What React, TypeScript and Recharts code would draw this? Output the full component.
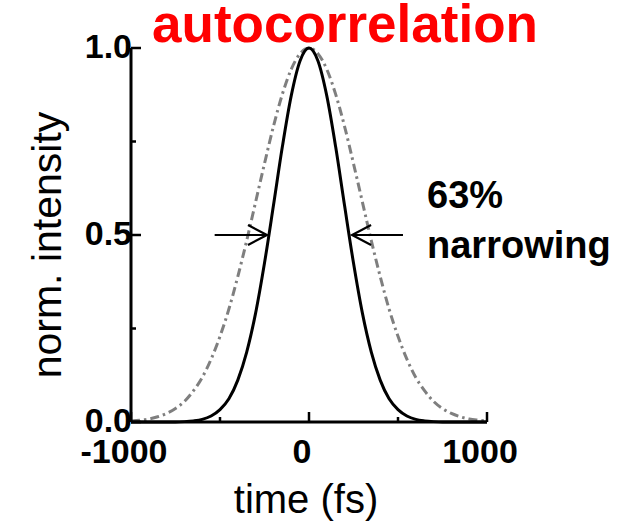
import { LineChart, Line, XAxis, YAxis, ReferenceLine } from "recharts";

// time axis (fs)
const TIME = [
  -1000, -950, -900, -850, -800, -750, -700, -650, -600, -550, -500, -450, -400,
  -350, -300, -250, -200, -150, -100, -50, 0, 50, 100, 150, 200, 250, 300, 350,
  400, 450, 500, 550, 600, 650, 700, 750, 800, 850, 900, 950, 1000,
];

// black solid curve (narrowed)
const NARROW = [
  0, 0, 0, 0, 0, 0, 0.001, 0.003, 0.007, 0.016, 0.033, 0.062, 0.112, 0.187,
  0.291, 0.425, 0.578, 0.735, 0.872, 0.966, 1, 0.966, 0.872, 0.735, 0.578,
  0.425, 0.291, 0.187, 0.112, 0.062, 0.033, 0.016, 0.007, 0.003, 0.001, 0, 0, 0,
  0, 0, 0,
];

// gray dash-dot curve (reference)
const WIDE = [
  0.003, 0.005, 0.008, 0.014, 0.023, 0.036, 0.055, 0.083, 0.119, 0.168, 0.229,
  0.302, 0.389, 0.485, 0.588, 0.691, 0.79, 0.876, 0.943, 0.985, 1, 0.985, 0.943,
  0.876, 0.79, 0.691, 0.588, 0.485, 0.389, 0.302, 0.229, 0.168, 0.119, 0.083,
  0.055, 0.036, 0.023, 0.014, 0.008, 0.005, 0.003,
];

const X_TICKS = [-1000, -500, 0, 500, 1000];
const X_LABELS = [-1000, 0, 1000];
const Y_TICKS = [0, 0.25, 0.5, 0.75, 1];
const Y_LABELS = [0, 0.5, 1];

// arrows marking the half maximum: [from, to] in fs at 0.5
const ARROWS = [
  [-530, -236],
  [528, 242],
];

const data = TIME.map((t, i) => ({ t, narrow: NARROW[i], wide: WIDE[i] }));

const FONT = '"Liberation Sans", Arial, sans-serif';

function XTick(props: any) {
  const { x, y, payload } = props;
  const major = X_LABELS.includes(payload.value);
  return (
    <g>
      <line x1={x} x2={x} y1={y} y2={y - (major ? 10 : 5)} stroke="#000" strokeWidth={2.5} />
      {major && (
        <text
          x={x - 7}
          y={y + 41}
          textAnchor="middle"
          fontFamily={FONT}
          fontWeight="bold"
          fontSize={34}
          fill="#000"
        >
          {payload.value}
        </text>
      )}
    </g>
  );
}

function YTick(props: any) {
  const { x, y, payload } = props;
  const major = Y_LABELS.includes(payload.value);
  return (
    <g>
      <line x1={x} x2={x + (major ? 10 : 5)} y1={y} y2={y} stroke="#000" strokeWidth={2.5} />
      {major && (
        <text
          x={x + 1}
          y={y + 9.5}
          textAnchor="end"
          fontFamily={FONT}
          fontWeight="bold"
          fontSize={34}
          fill="#000"
        >
          {payload.value.toFixed(1)}
        </text>
      )}
    </g>
  );
}

function Arrow(props: any) {
  const { x1, y1, x2, y2 } = props;
  const dir = x2 > x1 ? 1 : -1;
  return (
    <g fill="none" stroke="#000" strokeWidth={2.2}>
      <line x1={x1} y1={y1} x2={x2} y2={y2} />
      <polyline points={`${x2 - dir * 19},${y2 - 10} ${x2},${y2} ${x2 - dir * 19},${y2 + 10}`} />
    </g>
  );
}

export default function App() {
  return (
    <div style={{ position: "absolute", left: 0, top: 0, width: 636, height: 525, background: "#fff" }}>
      <LineChart
        width={636}
        height={525}
        data={data}
        margin={{ top: 48, right: 149, bottom: 43, left: 31 }}
      >
        <XAxis
          dataKey="t"
          type="number"
          domain={[-1000, 1000]}
          ticks={X_TICKS}
          tick={<XTick />}
          tickLine={false}
          tickSize={0}
          tickMargin={0}
          height={60}
          axisLine={{ stroke: "#000", strokeWidth: 3 }}
        />
        <YAxis
          type="number"
          domain={[0, 1]}
          ticks={Y_TICKS}
          tick={<YTick />}
          tickLine={false}
          tickSize={0}
          tickMargin={0}
          width={100}
          axisLine={{ stroke: "#000", strokeWidth: 3 }}
        />
        <Line
          dataKey="wide"
          type="monotone"
          stroke="#7f7f7f"
          strokeWidth={3}
          strokeDasharray="9 4 2.5 4"
          dot={false}
          isAnimationActive={false}
        />
        <Line
          dataKey="narrow"
          type="monotone"
          stroke="#000"
          strokeWidth={3}
          dot={false}
          isAnimationActive={false}
        />
        {ARROWS.map(([from, to], i) => (
          <ReferenceLine
            key={i}
            segment={[
              { x: from, y: 0.5 },
              { x: to, y: 0.5 },
            ]}
            shape={<Arrow />}
          />
        ))}
      </LineChart>
      <svg
        width={636}
        height={525}
        style={{ position: "absolute", left: 0, top: 0, pointerEvents: "none" }}
        fontFamily={FONT}
      >
        <text x={345} y={42} textAnchor="middle" fontSize={53} fontWeight="bold" fill="#ff0000">
          autocorrelation
        </text>
        <text x={427} y={208} fontSize={38} fontWeight="bold" fill="#000">
          63%
        </text>
        <text x={427} y={258} fontSize={38} fontWeight="bold" fill="#000">
          narrowing
        </text>
        <text
          x={0}
          y={0}
          transform="translate(61,245) rotate(-90)"
          textAnchor="middle"
          fontSize={41}
          fill="#000"
        >
          norm. intensity
        </text>
        <text x={306} y={513} textAnchor="middle" fontSize={40} fill="#000">
          time (fs)
        </text>
      </svg>
    </div>
  );
}
